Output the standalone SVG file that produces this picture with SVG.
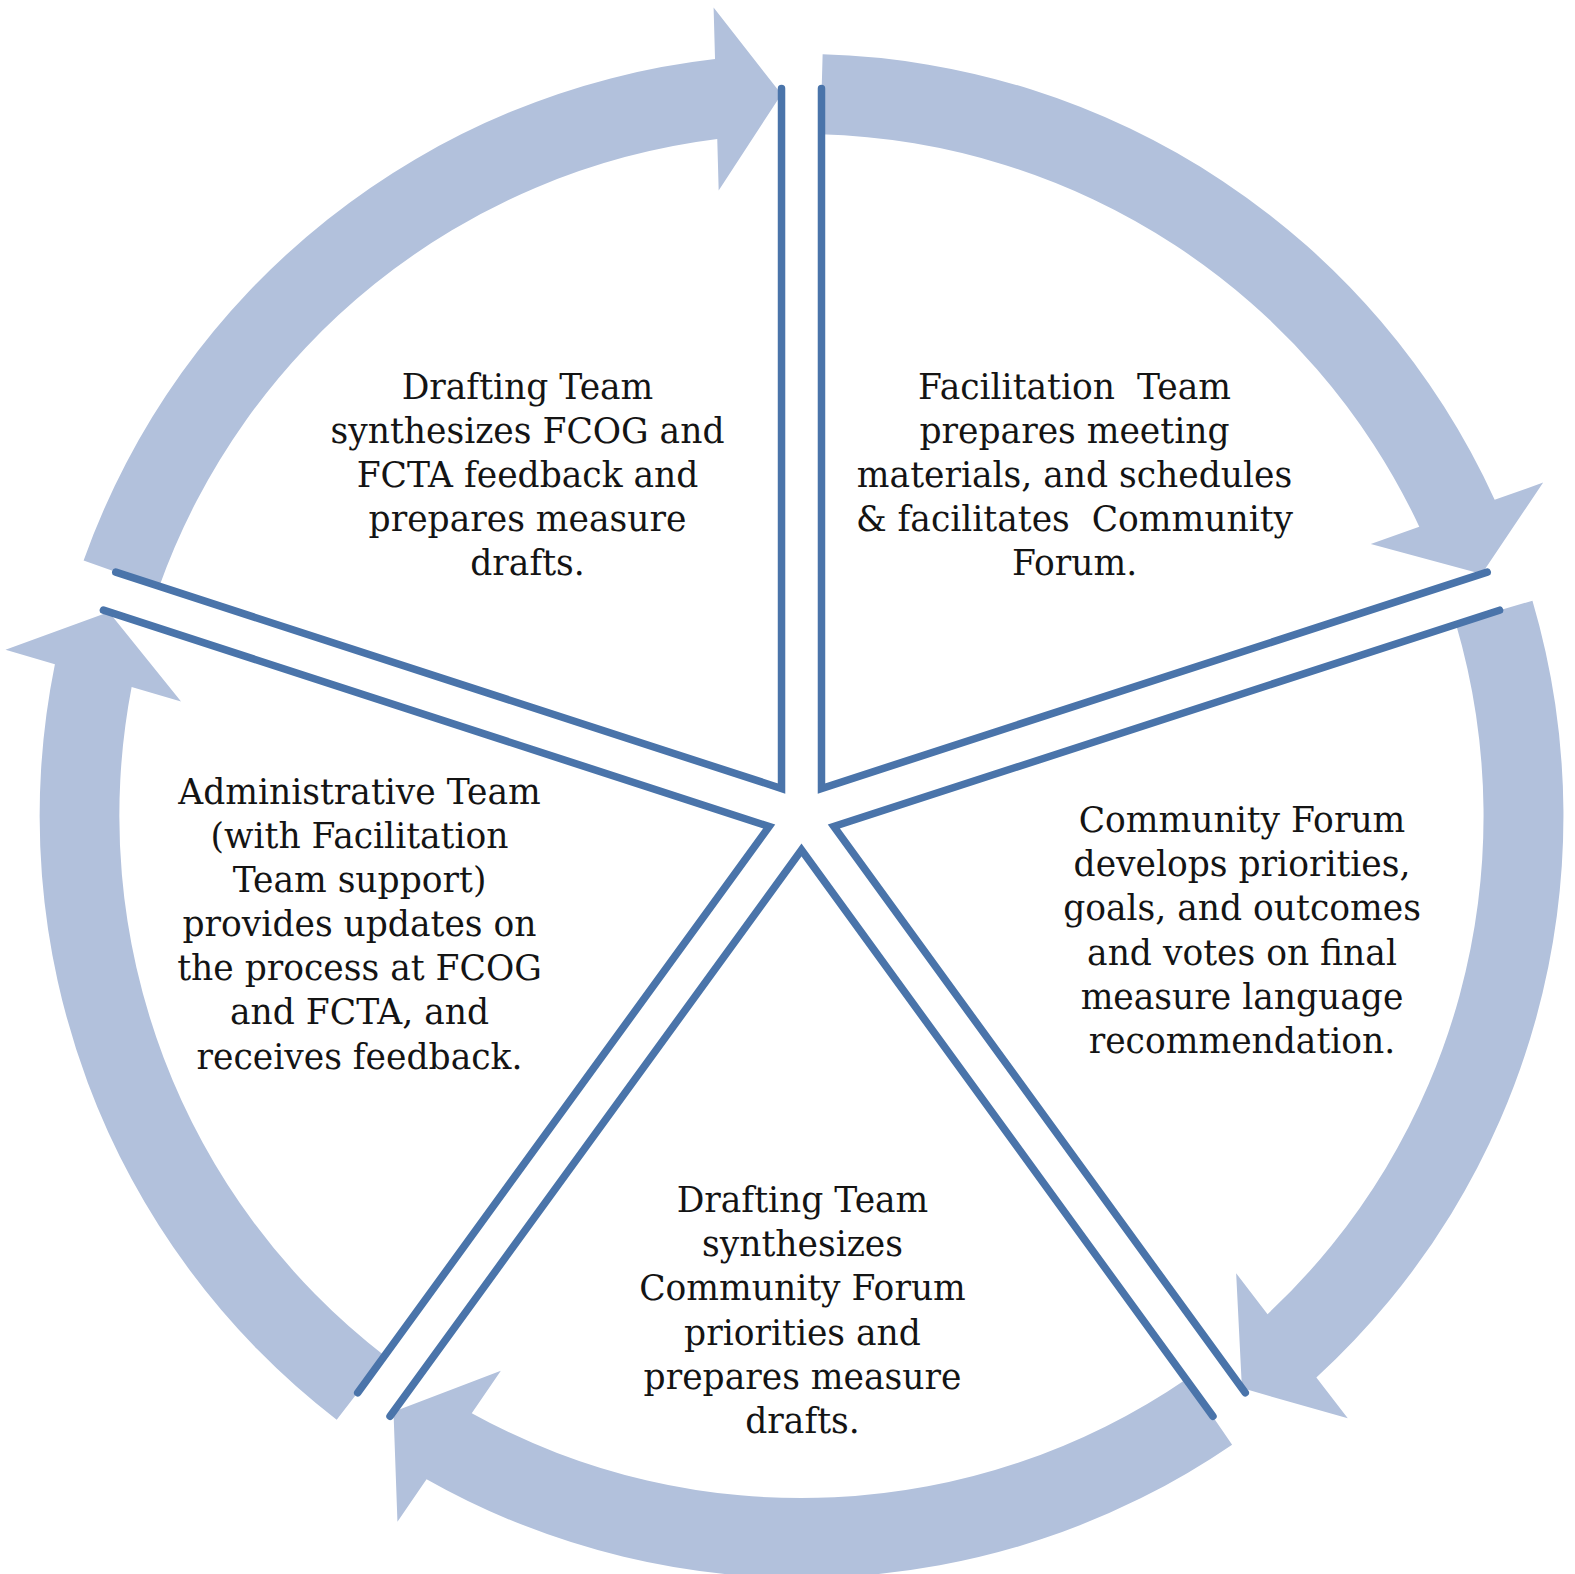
<svg xmlns="http://www.w3.org/2000/svg" width="1575" height="1574" viewBox="0 0 1575 1574">
<style>
.arrow{fill:#B2C1DC}
.wedge{fill:none;stroke:#4A74AA;stroke-width:7.5;stroke-linejoin:miter;stroke-linecap:round}
.label{font-family:"DejaVu Serif","Liberation Serif",serif;font-size:34.5px;fill:#141414;text-anchor:middle;white-space:pre}
</style>
<defs>
<path id="arrowShape" class="arrow" d="M83.61 560.52 A762 762 0 0 1 715.03 59.08 L713.60 7.60 L781.47 94.28 L718.68 190.52 L717.25 139.04 A682 682 0 0 0 158.98 587.34 Z"/>
<path id="wedgeShape" class="wedge" d="M115.78 572.18 L781.52 788.49 L781.52 88.49"/>
</defs>
<rect width="1575" height="1574" fill="#ffffff"/>
<g id="connectors">
<use id="arrow-1" href="#arrowShape"/>
<use id="arrow-2" href="#arrowShape" transform="rotate(72 801.5 816)"/>
<use id="arrow-3" href="#arrowShape" transform="rotate(144 801.5 816)"/>
<use id="arrow-4" href="#arrowShape" transform="rotate(216 801.5 816)"/>
<use id="arrow-5" href="#arrowShape" transform="rotate(288 801.5 816)"/>
</g>
<g id="node-drafting-fcog">
<use href="#wedgeShape"/>
<text class="label" xml:space="preserve"><tspan x="527.5" y="399">Drafting Team</tspan><tspan x="527.5" y="443">synthesizes FCOG and</tspan><tspan x="527.5" y="487">FCTA feedback and</tspan><tspan x="527.5" y="531">prepares measure</tspan><tspan x="527.5" y="575">drafts.</tspan></text>
</g>
<g id="node-facilitation">
<use href="#wedgeShape" transform="rotate(72 801.5 816)"/>
<text class="label" xml:space="preserve"><tspan x="1074.5" y="399">Facilitation  Team</tspan><tspan x="1074.5" y="443">prepares meeting</tspan><tspan x="1074.5" y="487">materials, and schedules</tspan><tspan x="1074.5" y="531">&amp; facilitates  Community</tspan><tspan x="1074.5" y="575">Forum.</tspan></text>
</g>
<g id="node-community-forum">
<use href="#wedgeShape" transform="rotate(144 801.5 816)"/>
<text class="label" xml:space="preserve"><tspan x="1242" y="832">Community Forum</tspan><tspan x="1242" y="876">develops priorities,</tspan><tspan x="1242" y="920">goals, and outcomes</tspan><tspan x="1242" y="964.5">and votes on final</tspan><tspan x="1242" y="1008.5">measure language</tspan><tspan x="1242" y="1053">recommendation.</tspan></text>
</g>
<g id="node-drafting-community">
<use href="#wedgeShape" transform="rotate(216 801.5 816)"/>
<text class="label" xml:space="preserve"><tspan x="802.5" y="1212">Drafting Team</tspan><tspan x="802.5" y="1256">synthesizes</tspan><tspan x="802.5" y="1300">Community Forum</tspan><tspan x="802.5" y="1344.5">priorities and</tspan><tspan x="802.5" y="1388.5">prepares measure</tspan><tspan x="802.5" y="1433">drafts.</tspan></text>
</g>
<g id="node-administrative">
<use href="#wedgeShape" transform="rotate(288 801.5 816)"/>
<text class="label" xml:space="preserve"><tspan x="359.5" y="803.5">Administrative Team</tspan><tspan x="359.5" y="847.5">(with Facilitation</tspan><tspan x="359.5" y="891.5">Team support)</tspan><tspan x="359.5" y="936">provides updates on</tspan><tspan x="359.5" y="980">the process at FCOG</tspan><tspan x="359.5" y="1024">and FCTA, and</tspan><tspan x="359.5" y="1068.5">receives feedback.</tspan></text>
</g>
</svg>
